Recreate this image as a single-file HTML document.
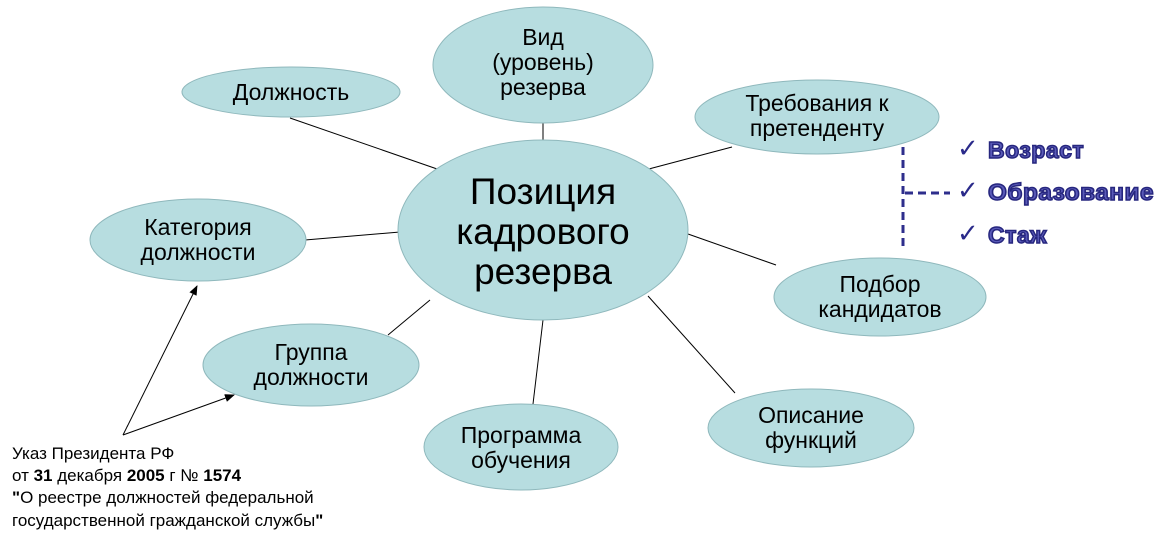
<!DOCTYPE html>
<html><head><meta charset="utf-8"><style>
html,body{margin:0;padding:0;background:#fff;}
svg{display:block;}
text{font-family:"Liberation Sans","DejaVu Sans",sans-serif;}
</style></head><body>
<svg width="1165" height="539" viewBox="0 0 1165 539" xmlns="http://www.w3.org/2000/svg">
<defs>
<marker id="ar" markerWidth="10" markerHeight="8" refX="9" refY="4" orient="auto" markerUnits="userSpaceOnUse">
<path d="M0,0 L10,4 L0,8 z" fill="#000"/></marker>
</defs>
<g stroke="#000" stroke-width="1">
<line x1="290" y1="118" x2="440" y2="170"/>
<line x1="543" y1="123" x2="543" y2="143"/>
<line x1="732" y1="147" x2="645" y2="170"/>
<line x1="305" y1="240" x2="400" y2="232"/>
<line x1="776" y1="265" x2="688" y2="234"/>
<line x1="388" y1="335" x2="430" y2="300"/>
<line x1="533" y1="404" x2="543" y2="320"/>
<line x1="735" y1="393" x2="648" y2="296"/>
<line x1="123" y1="435" x2="197" y2="286" marker-end="url(#ar)"/>
<line x1="123" y1="435" x2="234" y2="395" marker-end="url(#ar)"/>
</g>
<g fill="#b7dde0" stroke="#8fb8bc" stroke-width="1">
<ellipse cx="543" cy="230" rx="145" ry="90"/>
<ellipse cx="543" cy="65" rx="110" ry="58"/>
<ellipse cx="291" cy="92" rx="109" ry="25"/>
<ellipse cx="817" cy="117" rx="122" ry="37"/>
<ellipse cx="198" cy="240" rx="108" ry="41"/>
<ellipse cx="880" cy="297" rx="106" ry="39"/>
<ellipse cx="311" cy="365" rx="108" ry="41"/>
<ellipse cx="521" cy="447" rx="97" ry="43"/>
<ellipse cx="811" cy="428" rx="103" ry="39"/>
</g>
<g fill="#000" text-anchor="middle" font-size="23">
<text x="543" y="204" font-size="37">Позиция</text>
<text x="543" y="244" font-size="37">кадрового</text>
<text x="543" y="284" font-size="37">резерва</text>
<text x="543" y="45">Вид</text>
<text x="543" y="70">(уровень)</text>
<text x="543" y="95">резерва</text>
<text x="291" y="100">Должность</text>
<text x="817" y="111">Требования к</text>
<text x="817" y="136">претенденту</text>
<text x="198" y="235">Категория</text>
<text x="198" y="260">должности</text>
<text x="880" y="292">Подбор</text>
<text x="880" y="317">кандидатов</text>
<text x="311" y="360">Группа</text>
<text x="311" y="385">должности</text>
<text x="521" y="443">Программа</text>
<text x="521" y="468">обучения</text>
<text x="811" y="423">Описание</text>
<text x="811" y="448">функций</text>
</g>
<g stroke="#2e2e8c" stroke-width="3" stroke-dasharray="8,5" fill="none">
<line x1="903" y1="147" x2="903" y2="250"/>
<line x1="905" y1="193" x2="950" y2="193"/>
</g>
<g font-size="26" font-weight="bold" fill="#2a2a8a">
<text x="957" y="157">✓</text>
<text x="957" y="199">✓</text>
<text x="957" y="242">✓</text>
</g>
<g font-size="23" font-weight="bold" fill="#5a5ab8" stroke="#26267e" stroke-width="1.5" letter-spacing="0.5">
<text x="988" y="158">Возраст</text>
<text x="988" y="200" textLength="166" lengthAdjust="spacingAndGlyphs">Образование</text>
<text x="988" y="243">Стаж</text>
</g>
<g font-size="17" fill="#000">
<text x="12" y="459">Указ Президента РФ</text>
<text x="12" y="481">от <tspan font-weight="bold">31</tspan> декабря <tspan font-weight="bold">2005</tspan> г № <tspan font-weight="bold">1574</tspan></text>
<text x="12" y="503"><tspan font-weight="bold">"</tspan>О реестре должностей федеральной</text>
<text x="12" y="526">государственной гражданской службы<tspan font-weight="bold">"</tspan></text>
</g>
</svg>
</body></html>
